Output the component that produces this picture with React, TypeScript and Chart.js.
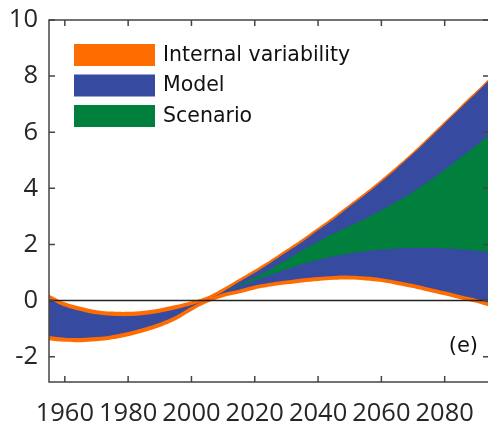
import { useEffect, useRef } from "react";
import { Chart, registerables } from "chart.js";

Chart.register(...registerables);

const years = [1955, 1960, 1965, 1970, 1975, 1980, 1985, 1990, 1995, 2000, 2005, 2010, 2015, 2020, 2025, 2030, 2035, 2040, 2045, 2050, 2055, 2060, 2065, 2070, 2075, 2080, 2085, 2090, 2095];

const ivUpper = [0.21, -0.06, -0.22, -0.34, -0.39, -0.4, -0.36, -0.28, -0.16, -0.02, 0.15, 0.44, 0.77, 1.1, 1.45, 1.82, 2.2, 2.6, 3.0, 3.43, 3.86, 4.32, 4.8, 5.3, 5.83, 6.38, 6.93, 7.47, 8.02];
const modelUpper = [0.06, -0.21, -0.37, -0.49, -0.54, -0.55, -0.51, -0.43, -0.31, -0.16, 0.04, 0.32, 0.66, 0.99, 1.35, 1.72, 2.1, 2.51, 2.91, 3.35, 3.78, 4.24, 4.72, 5.23, 5.76, 6.31, 6.86, 7.4, 7.95];
const scenarioUpper = [null, null, null, null, null, null, null, null, null, null, null, 0.29, 0.55, 0.82, 1.12, 1.45, 1.79, 2.1, 2.39, 2.65, 2.92, 3.22, 3.53, 3.87, 4.25, 4.66, 5.09, 5.53, 5.98];
const scenarioLower = [null, null, null, null, null, null, null, null, null, null, null, 0.29, 0.52, 0.72, 0.92, 1.12, 1.3, 1.45, 1.58, 1.68, 1.76, 1.82, 1.86, 1.88, 1.88, 1.86, 1.83, 1.78, 1.73];
const modelLower = [-1.26, -1.32, -1.33, -1.3, -1.23, -1.12, -0.97, -0.79, -0.55, -0.22, 0.03, 0.26, 0.39, 0.54, 0.64, 0.72, 0.79, 0.84, 0.88, 0.89, 0.86, 0.8, 0.7, 0.59, 0.46, 0.33, 0.19, 0.06, -0.11];
const ivLower = [-1.41, -1.47, -1.48, -1.45, -1.38, -1.27, -1.12, -0.94, -0.7, -0.37, -0.08, 0.12, 0.25, 0.4, 0.5, 0.58, 0.65, 0.7, 0.74, 0.75, 0.72, 0.66, 0.56, 0.45, 0.32, 0.19, 0.05, -0.08, -0.25];

const xTicks = [1960, 1980, 2000, 2020, 2040, 2060, 2080];
const yTicks = [-2, 0, 2, 4, 6, 8, 10];
const legendLabels = ["Internal variability", "Model", "Scenario"];
const panelLabel = "(e)";

const ORANGE = "#ff6c00";
const BLUE = "#364ba0";
const GREEN = "#007f3d";
const legendColors = [ORANGE, BLUE, GREEN];

const pts = (vals: (number | null)[]) => years.map((yr, i) => ({ x: yr, y: vals[i] }));

const framePlugin = {
  id: "frame",
  afterDatasetsDraw(chart: any) {
    const { ctx, chartArea: a, scales } = chart;
    const xs = scales.x;
    const ys = scales.y;
    ctx.save();
    const y0 = ys.getPixelForValue(0);
    ctx.strokeStyle = "#222";
    ctx.lineWidth = 1.5;
    ctx.beginPath();
    ctx.moveTo(a.left, y0);
    ctx.lineTo(a.right, y0);
    ctx.stroke();
    ctx.strokeStyle = "#444";
    ctx.lineWidth = 1.5;
    ctx.strokeRect(a.left, a.top, a.right - a.left, a.bottom - a.top);
    const tl = 6;
    ctx.beginPath();
    xTicks.forEach((t) => {
      const px = xs.getPixelForValue(t);
      ctx.moveTo(px, a.bottom);
      ctx.lineTo(px, a.bottom - tl);
      ctx.moveTo(px, a.top);
      ctx.lineTo(px, a.top + tl);
    });
    yTicks.forEach((t) => {
      const py = ys.getPixelForValue(t);
      ctx.moveTo(a.left, py);
      ctx.lineTo(a.left + tl, py);
      ctx.moveTo(a.right, py);
      ctx.lineTo(a.right - tl, py);
    });
    ctx.stroke();
    ctx.font = '20.5px "DejaVu Sans"';
    ctx.textBaseline = "middle";
    ctx.textAlign = "left";
    legendLabels.forEach((lab, i) => {
      const top = 44 + i * 30.5;
      ctx.fillStyle = legendColors[i];
      ctx.fillRect(74, top, 81, 22);
      ctx.fillStyle = "#111";
      ctx.fillText(lab, 163, top + 11.5);
    });
    ctx.font = '21px "DejaVu Sans"';
    ctx.textAlign = "right";
    ctx.fillStyle = "#111";
    ctx.fillText(panelLabel, 478, 347);
    ctx.restore();
  },
};

export default function App() {
  const ref = useRef<HTMLCanvasElement | null>(null);
  useEffect(() => {
    document.body.style.margin = "0";
    document.body.style.overflow = "hidden";
    const ds = (vals: (number | null)[], color: string, fill: any) => ({
      data: pts(vals),
      borderWidth: 0,
      borderColor: color,
      backgroundColor: color,
      pointRadius: 0,
      tension: 0.4,
      fill,
    });
    const chart = new Chart(ref.current as HTMLCanvasElement, {
      type: "line",
      data: {
        datasets: [
          ds(scenarioUpper, GREEN, "+1"),
          ds(scenarioLower, GREEN, false),
          ds(modelUpper, BLUE, "+1"),
          ds(modelLower, BLUE, false),
          ds(ivUpper, ORANGE, "+1"),
          ds(ivLower, ORANGE, false),
        ],
      },
      options: {
        animation: false,
        responsive: false,
        devicePixelRatio: 1,
        layout: { padding: { top: 20, right: 7, left: 0, bottom: 0 } },
        plugins: { legend: { display: false }, tooltip: { enabled: false } },
        scales: {
          x: {
            type: "linear",
            min: 1955,
            max: 2094,
            grid: { display: false },
            border: { display: false },
            afterBuildTicks: (s: any) => {
              s.ticks = xTicks.map((v) => ({ value: v }));
            },
            afterFit: (s: any) => {
              s.height = 40;
            },
            ticks: {
              padding: 8,
              color: "#262626",
              font: { family: "'Open Sans', sans-serif", size: 25.5 },
              maxRotation: 0,
              autoSkip: false,
              callback: (v: any) => String(v),
            },
          },
          y: {
            type: "linear",
            min: -2.9,
            max: 10,
            grid: { display: false },
            border: { display: false },
            afterBuildTicks: (s: any) => {
              s.ticks = yTicks.map((v) => ({ value: v }));
            },
            afterFit: (s: any) => {
              s.width = 49;
            },
            ticks: {
              padding: 3,
              color: "#262626",
              font: { family: "'Open Sans', sans-serif", size: 25.5 },
              callback: (v: any) => String(v),
            },
          },
        },
      },
      plugins: [framePlugin],
    });
    return () => chart.destroy();
  }, []);
  return (
    <div style={{ position: "absolute", left: 0, top: 0, width: 488, height: 422, overflow: "hidden" }}>
      <canvas ref={ref} width={496} height={422} style={{ width: 496, height: 422, display: "block" }} />
    </div>
  );
}
